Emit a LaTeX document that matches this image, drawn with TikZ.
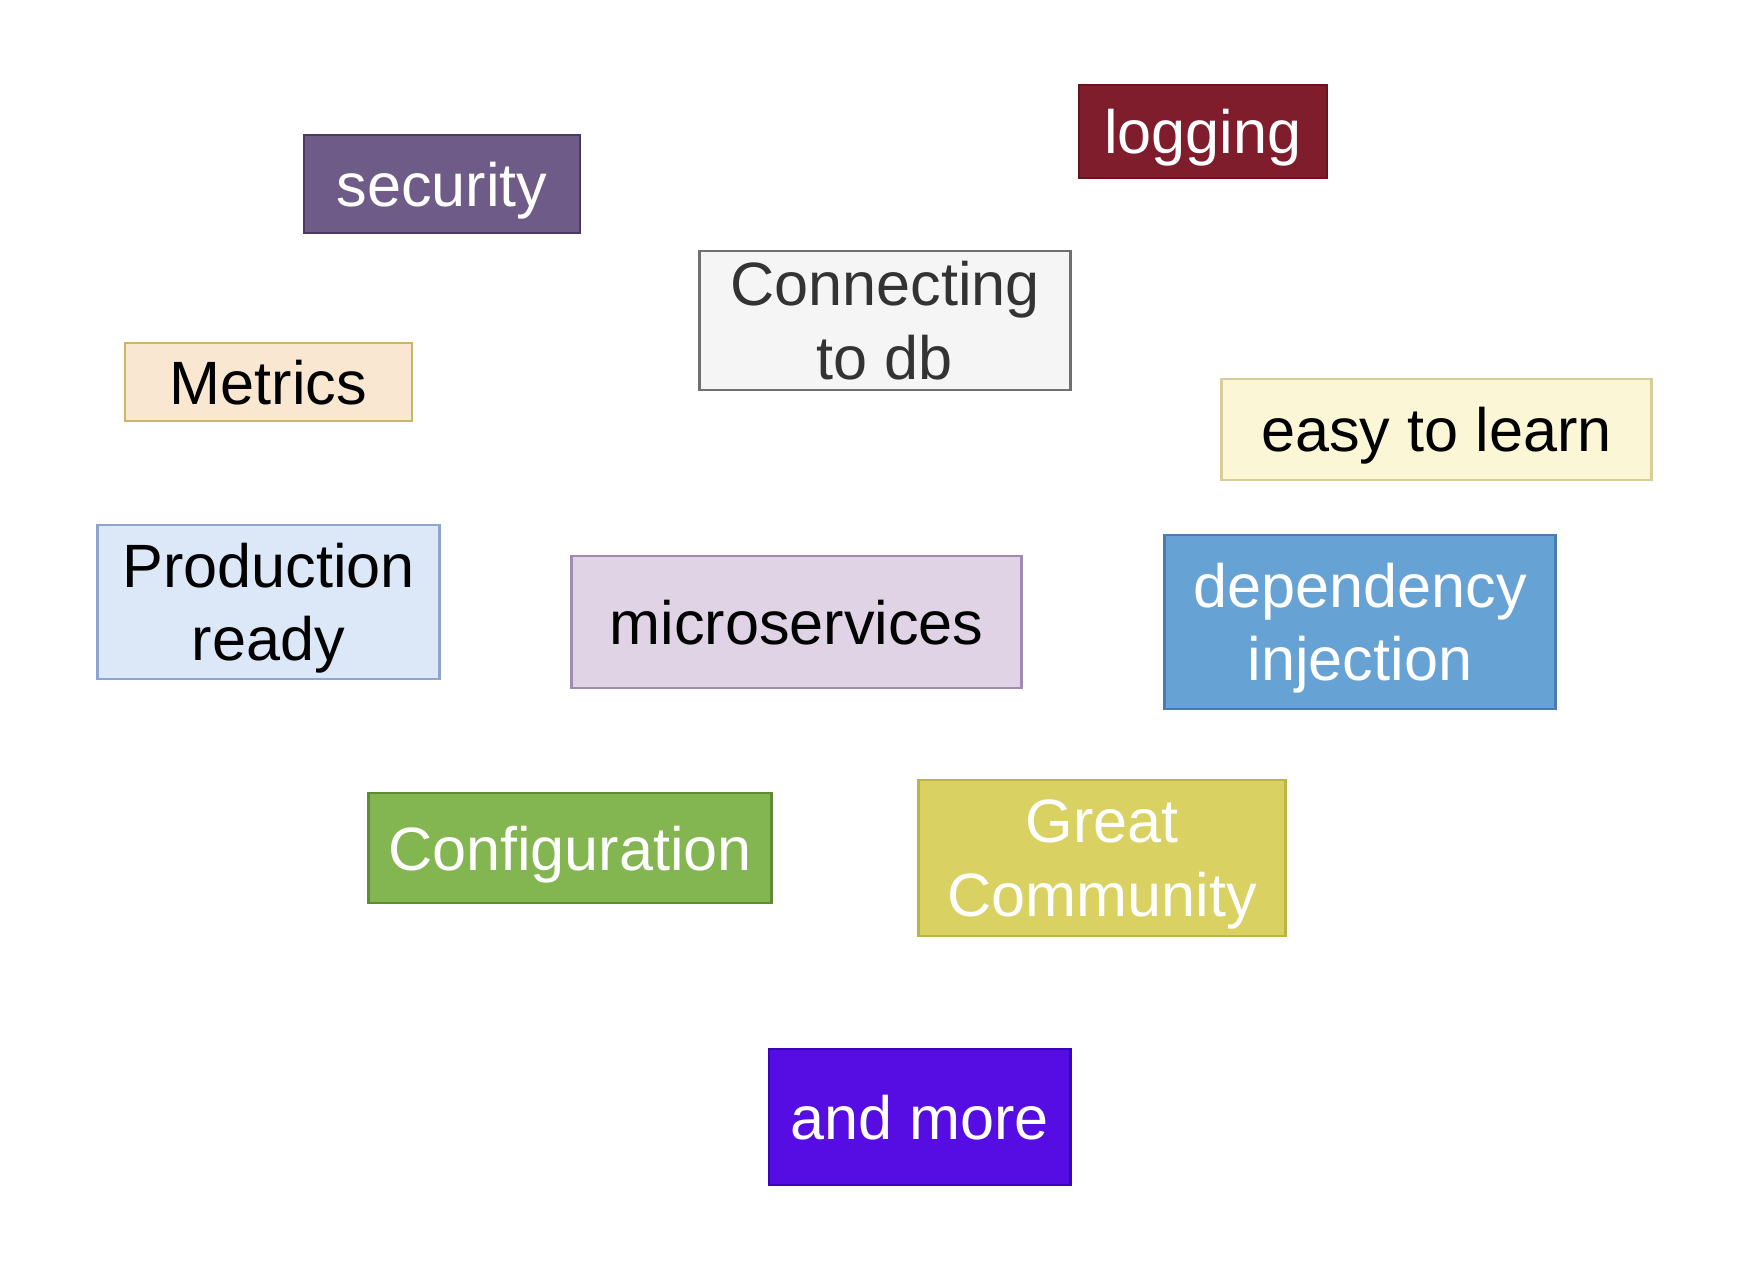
\documentclass[tikz,border=0pt]{standalone}
\usepackage{fontspec}
\setmainfont{Liberation Sans}
\usepackage{xcolor}
\definecolor{secfill}{HTML}{6F5B88}
\definecolor{secline}{HTML}{4A3A62}
\definecolor{logfill}{HTML}{7F1D2D}
\definecolor{logline}{HTML}{6A1220}
\definecolor{dbfill}{HTML}{F5F5F5}
\definecolor{dbline}{HTML}{707070}
\definecolor{dbtext}{HTML}{333333}
\definecolor{metfill}{HTML}{FAE7D1}
\definecolor{metline}{HTML}{CDB466}
\definecolor{easyfill}{HTML}{FAF6D6}
\definecolor{easyline}{HTML}{D6CE96}
\definecolor{prodfill}{HTML}{DCE7F8}
\definecolor{prodline}{HTML}{8FA6CC}
\definecolor{msfill}{HTML}{DFD3E5}
\definecolor{msline}{HTML}{A08CB0}
\definecolor{difill}{HTML}{67A2D5}
\definecolor{diline}{HTML}{4A7CB3}
\definecolor{cfgfill}{HTML}{83B550}
\definecolor{cfgline}{HTML}{5E8B33}
\definecolor{gcfill}{HTML}{D9D161}
\definecolor{gcline}{HTML}{BDB446}
\definecolor{morefill}{HTML}{560DE3}
\definecolor{moreline}{HTML}{3C04B8}

\begin{document}
\begin{tikzpicture}[
		x=0.01cm, y=-0.01cm,
		tag/.style = {draw, line width=0.8pt, inner sep=0pt, align=center,
			font=\fontsize{17.4}{20.9}\selectfont},
		oneline/.style = {text height=12.7pt, text depth=0pt},
		]
		
		\useasboundingbox (0, 0) rectangle (1748, 1276);
		\node[tag, oneline, fill=secfill, draw=secline, text=white, minimum width=2.76cm, minimum height=0.98cm]	(security)	at (442, 184)		{security};
		\node[tag, oneline, fill=logfill, draw=logline, text=white, minimum width=2.48cm, minimum height=0.93cm]	(logging)	at (1203, 131.5)	{logging};
		\node[tag, fill=dbfill, draw=dbline, text=dbtext, minimum width=3.70cm, minimum height=1.39cm]	(db)		at (885, 320.5)		{Connecting\\\smash{to db}};
		\node[tag, oneline, fill=metfill, draw=metline, minimum width=2.87cm, minimum height=0.78cm]	(metrics)	at (268.5, 382)		{Metrics};
		\node[tag, oneline, fill=easyfill, draw=easyline, minimum width=4.29cm, minimum height=1.01cm]	(easy)		at (1436.5, 429.5)	{easy to learn};
		\node[tag, fill=prodfill, draw=prodline, minimum width=3.41cm, minimum height=1.54cm]	(prod)		at (268.5, 602)		{Production\\\smash{ready}};
		\node[tag, oneline, fill=msfill, draw=msline, minimum width=4.49cm, minimum height=1.32cm]	(micro)		at (796.5, 622)		{microservices};
		\node[tag, fill=difill, draw=diline, text=white, minimum width=3.90cm, minimum height=1.74cm]	(di)		at (1360, 622)		{dependency\\\smash{injection}};
		\node[tag, oneline, fill=cfgfill, draw=cfgline, text=white, minimum width=4.02cm, minimum height=1.10cm]	(config)	at (570, 848)		{Configuration};
		\node[tag, fill=gcfill, draw=gcline, text=white, minimum width=3.66cm, minimum height=1.56cm]	(community)	at (1102, 858)		{Great\\\smash{Community}};
		\node[tag, oneline, fill=morefill, draw=moreline, text=white, minimum width=3.01cm, minimum height=1.36cm]	(more)		at (919.5, 1117)	{and more};
	\end{tikzpicture}
\end{document}
